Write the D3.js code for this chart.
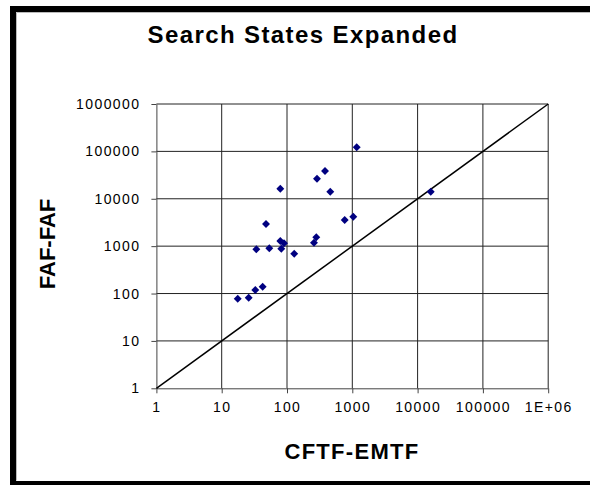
<!DOCTYPE html>
<html>
<head>
<meta charset="utf-8">
<script src="https://cdn.jsdelivr.net/npm/d3@7"></script>
<style>
  html, body { margin: 0; padding: 0; background: #fff; }
  svg { display: block; font-family: Arial, "Liberation Sans", sans-serif; }
</style>
</head>
<body>
<svg id="chart" width="590" height="485"></svg>
<script>
// Search states expanded per problem: CFTF-EMTF (x) against FAF-FAF (y)
const cftfEmtf = [1168, 382, 288, 79, 460, 15900, 765, 1036, 47.7, 79, 90, 281, 259, 33.9, 53.6, 81.8, 129, 17.6, 25.9, 32.7, 42.4];
const fafFaf   = [122000, 38600, 26500, 16300, 14100, 14100, 3570, 4190, 2940, 1285, 1149, 1538, 1183, 859, 901, 884, 693, 77.8, 81.7, 119, 139];

const xTickValues = [1, 10, 100, 1000, 10000, 100000, 1000000];
const xTickLabels = ["1", "10", "100", "1000", "10000", "100000", "1E+06"];
const yTickValues = [1, 10, 100, 1000, 10000, 100000, 1000000];
const yTickLabels = ["1", "10", "100", "1000", "10000", "100000", "1000000"];

const chartTitle = "Search States Expanded";
const xTitle = "CFTF-EMTF";
const yTitle = "FAF-FAF";

const svg = d3.select("#chart");

// outer frame (left, top and bottom edges)
svg.append("path")
  .attr("d", "M13,485 L13,9 L595,9 M13,484 L595,484")
  .attr("fill", "none").attr("stroke", "#000").attr("stroke-width", 6);
svg.append("path")
  .attr("d", "M16.5,480.5 L16.5,12.5 L590,12.5")
  .attr("fill", "none").attr("stroke", "#bbb").attr("stroke-width", 1);

const plot = { left: 156.4, right: 548.2, top: 104, bottom: 388.3 };

const x = d3.scaleLog().domain([1, 1e6]).range([plot.left, plot.right]);
const y = d3.scaleLog().domain([1, 1e6]).range([plot.bottom, plot.top]);

// grid
const grid = svg.append("g").attr("stroke", "#222").attr("stroke-width", 1);
grid.selectAll("line.v").data(xTickValues.slice(1)).join("line")
  .attr("x1", d => x(d)).attr("x2", d => x(d))
  .attr("y1", plot.top).attr("y2", plot.bottom);
grid.selectAll("line.h").data(yTickValues.slice(1)).join("line")
  .attr("x1", plot.left).attr("x2", plot.right)
  .attr("y1", d => y(d)).attr("y2", d => y(d));

// axes
const xAxis = d3.axisBottom(x).tickValues(xTickValues)
  .tickFormat((d, i) => xTickLabels[i]).tickSizeOuter(0).tickSizeInner(5).tickPadding(9);
const yAxis = d3.axisLeft(y).tickValues(yTickValues)
  .tickFormat((d, i) => yTickLabels[i]).tickSizeOuter(0).tickSizeInner(5).tickPadding(11);

const gx = svg.append("g").attr("transform", `translate(0,${plot.bottom})`).call(xAxis);
const gy = svg.append("g").attr("transform", `translate(${plot.left},0)`).call(yAxis);
[gx, gy].forEach(g => {
  g.selectAll(".domain").attr("stroke", "#444");
  g.selectAll(".tick line").attr("stroke", "#444");
  g.selectAll("text").attr("fill", "#000").attr("font-size", 14)
    .attr("letter-spacing", "1.4px")
    .attr("font-family", "Arial, 'Liberation Sans', sans-serif");
});

// y = x reference line
svg.append("line")
  .attr("x1", x(1)).attr("y1", y(1))
  .attr("x2", x(1e6)).attr("y2", y(1e6))
  .attr("stroke", "#000").attr("stroke-width", 1.5);

// data markers (diamonds)
const diamond = d3.symbol().type(d3.symbolDiamond2).size(40);
svg.append("g").selectAll("path")
  .data(cftfEmtf.map((v, i) => [v, fafFaf[i]]))
  .join("path")
  .attr("d", diamond)
  .attr("transform", d => `translate(${x(d[0])},${y(d[1])})`)
  .attr("fill", "#000080");

// titles
svg.append("text")
  .attr("x", 303).attr("y", 43)
  .attr("text-anchor", "middle")
  .attr("font-size", 24).attr("font-weight", "bold")
  .attr("letter-spacing", "1.4px")
  .text(chartTitle);

svg.append("text")
  .attr("x", 352).attr("y", 459)
  .attr("text-anchor", "middle")
  .attr("font-size", 22).attr("font-weight", "bold")
  .attr("letter-spacing", "1.3px")
  .text(xTitle);

svg.append("text")
  .attr("transform", "translate(55,244) rotate(-90)")
  .attr("text-anchor", "middle")
  .attr("font-size", 22).attr("font-weight", "bold")
  .text(yTitle);
</script>
</body>
</html>
